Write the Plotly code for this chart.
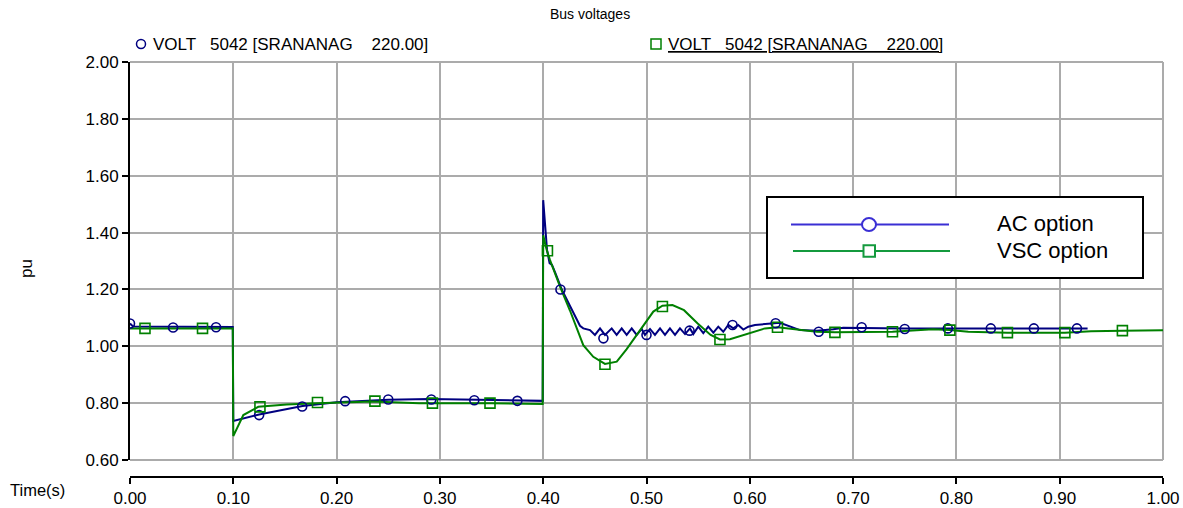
import plotly.graph_objects as go

# ---------------- data ----------------
ac_t = [0.0, 0.003, 0.0995, 0.1, 0.125, 0.15, 0.167, 0.2, 0.25, 0.29, 0.35, 0.3995,
        0.4, 0.4021, 0.4037, 0.4062, 0.4085, 0.4118, 0.4182, 0.4262, 0.4356, 0.4388, 0.4453, 0.4501,
        0.455, 0.4598, 0.4663, 0.4711, 0.476, 0.4808, 0.4857, 0.4905, 0.4954, 0.4985,
        0.5034, 0.5082, 0.5131, 0.5179, 0.5227, 0.5276, 0.5324, 0.5373, 0.5421, 0.5453,
        0.5501, 0.555, 0.5598, 0.5647, 0.5695, 0.5743, 0.5792, 0.584, 0.5888, 0.5937,
        0.5985, 0.605, 0.6147, 0.6292, 0.6486, 0.665, 0.6808, 0.6905, 0.75, 0.85, 0.927]
ac_v = [1.08, 1.07, 1.068, 0.737, 0.76, 0.778, 0.79, 0.803, 0.812, 0.815, 0.812, 0.808,
        1.514, 1.403, 1.339, 1.292, 1.286, 1.257, 1.198, 1.14, 1.072, 1.063, 1.057, 1.04,
        1.063, 1.04, 1.063, 1.04, 1.063, 1.04, 1.063, 1.04, 1.061, 1.04,
        1.061, 1.04, 1.063, 1.04, 1.063, 1.04, 1.063, 1.043, 1.063, 1.043,
        1.069, 1.046, 1.069, 1.048, 1.069, 1.051, 1.075, 1.063, 1.075, 1.059,
        1.069, 1.075, 1.078, 1.083, 1.057, 1.055, 1.06, 1.065, 1.063, 1.063, 1.063]

ac_mark_t = [0.0, 0.0417, 0.0833, 0.125, 0.1667, 0.2083, 0.25, 0.2917, 0.3333, 0.375,
             0.4167, 0.4583, 0.5, 0.5417, 0.5833, 0.625, 0.6667, 0.7083, 0.75, 0.7917,
             0.8333, 0.875, 0.9167]
ac_mark_v = [1.08, 1.066, 1.067, 0.758, 0.788, 0.807, 0.813, 0.813, 0.81, 0.808,
             1.20, 1.028, 1.04, 1.055, 1.075, 1.081, 1.051, 1.067, 1.061, 1.063,
             1.063, 1.063, 1.063]

vsc_t = [0.0, 0.0995, 0.1, 0.1097, 0.1242, 0.1517, 0.1807, 0.235, 0.28, 0.35, 0.3995,
         0.4, 0.4034, 0.4066, 0.4163, 0.426, 0.4388, 0.4485, 0.4598, 0.4712, 0.4808,
         0.4937, 0.5066, 0.5154, 0.5251, 0.5363, 0.5493, 0.5621, 0.5711, 0.5808, 0.5986,
         0.6147, 0.6268, 0.6486, 0.6648, 0.6824, 0.7066, 0.7228, 0.7381, 0.7773, 0.7937,
         0.8115, 0.8494, 0.905, 0.9303, 0.9607, 1.0]
vsc_v = [1.063, 1.063, 0.684, 0.758, 0.787, 0.795, 0.80, 0.806, 0.80, 0.80, 0.797,
         1.391, 1.339, 1.303, 1.21, 1.125, 1.004, 0.963, 0.938, 0.946, 0.99,
         1.055, 1.122, 1.143, 1.145, 1.127, 1.081, 1.04, 1.024, 1.025, 1.046,
         1.063, 1.067, 1.057, 1.051, 1.049, 1.049, 1.051, 1.051, 1.06, 1.057,
         1.051, 1.048, 1.048, 1.053, 1.055, 1.056]

vsc_mark_t = [0.0145, 0.0702, 0.1258, 0.1815, 0.2371, 0.2928, 0.3485, 0.4041, 0.4598,
              0.5154, 0.5711, 0.6268, 0.6824, 0.7381, 0.7937, 0.8494, 0.905, 0.9607]
vsc_mark_v = [1.063, 1.063, 0.787, 0.802, 0.807, 0.80, 0.80, 1.336, 0.937,
              1.14, 1.024, 1.067, 1.049, 1.051, 1.057, 1.048, 1.048, 1.055]

x_ticks = [0.0, 0.1, 0.2, 0.3, 0.4, 0.5, 0.6, 0.7, 0.8, 0.9, 1.0]
y_ticks = [0.6, 0.8, 1.0, 1.2, 1.4, 1.6, 1.8, 2.0]

title_text = "Bus voltages"
series_label = "VOLT   5042 [SRANANAG    220.00]"
legend_names = ["AC option", "VSC option"]

# ---------------- styling ----------------
NAVY = "#000080"
GREEN = "#008000"
LEG_BLUE = "#3a2fd4"
LEG_GREEN = "#149a3e"
GRID = "#ababab"
FONT = "Arial, Liberation Sans, sans-serif"
W, H = 1183, 508
L, R, T, B_AX = 130, 1163, 62, 477   # pixel frame (x axis line at B_AX)
PLOT_BOTTOM = 460


def px(x):
    return (x - L) / (R - L)


def py(y):
    return (B_AX - y) / (B_AX - T)


fig = go.Figure()
fig.add_trace(go.Scatter(x=ac_t, y=ac_v, mode="lines",
                         line=dict(color=NAVY, width=2), showlegend=False))
fig.add_trace(go.Scatter(x=vsc_t, y=vsc_v, mode="lines",
                         line=dict(color=GREEN, width=2), showlegend=False))
fig.add_trace(go.Scatter(x=ac_mark_t, y=ac_mark_v, mode="markers",
                         marker=dict(symbol="circle-open", size=9, color=NAVY,
                                     line=dict(width=1.6, color=NAVY)),
                         showlegend=False))
fig.add_trace(go.Scatter(x=vsc_mark_t, y=vsc_mark_v, mode="markers",
                         marker=dict(symbol="square-open", size=10, color=GREEN,
                                     line=dict(width=1.6, color=GREEN)),
                         showlegend=False))

shapes = []
annotations = []

# legend box
shapes.append(dict(type="rect", xref="paper", yref="paper",
                   x0=px(767), x1=px(1143), y0=py(278), y1=py(197),
                   line=dict(color="black", width=2), fillcolor="white", layer="above"))
shapes.append(dict(type="line", xref="paper", yref="paper",
                   x0=px(791), x1=px(949), y0=py(224.5), y1=py(224.5),
                   line=dict(color=LEG_BLUE, width=2), layer="above"))
shapes.append(dict(type="line", xref="paper", yref="paper",
                   x0=px(793), x1=px(950), y0=py(251), y1=py(251),
                   line=dict(color=LEG_GREEN, width=2), layer="above"))
shapes.append(dict(type="circle", xref="paper", yref="paper",
                   x0=px(862), x1=px(876), y0=py(231), y1=py(218),
                   line=dict(color=LEG_BLUE, width=2), fillcolor="white", layer="above"))
shapes.append(dict(type="rect", xref="paper", yref="paper",
                   x0=px(863.5), x1=px(875), y0=py(256.8), y1=py(245.3),
                   line=dict(color=LEG_GREEN, width=2), fillcolor="white", layer="above"))
annotations.append(dict(xref="paper", yref="paper", x=px(995), y=py(223.5),
                        text=legend_names[0], showarrow=False, xanchor="left", yanchor="middle",
                        font=dict(family=FONT, size=22, color="black")))
annotations.append(dict(xref="paper", yref="paper", x=px(995), y=py(251),
                        text=legend_names[1], showarrow=False, xanchor="left", yanchor="middle",
                        font=dict(family=FONT, size=22, color="black")))

# top series labels
shapes.append(dict(type="circle", xref="paper", yref="paper",
                   x0=px(136.5), x1=px(145.5), y0=py(48.5), y1=py(39.5),
                   line=dict(color=NAVY, width=1.5)))
shapes.append(dict(type="rect", xref="paper", yref="paper",
                   x0=px(651), x1=px(661), y0=py(49), y1=py(39),
                   line=dict(color=GREEN, width=1.5)))
annotations.append(dict(xref="paper", yref="paper", x=px(151), y=py(44),
                        text=series_label, showarrow=False, xanchor="left", yanchor="middle",
                        font=dict(family=FONT, size=17, color="black")))
annotations.append(dict(xref="paper", yref="paper", x=px(666), y=py(44),
                        text="<u>" + series_label + "</u>", showarrow=False, xanchor="left",
                        yanchor="middle", font=dict(family=FONT, size=17, color="black")))

# title
annotations.append(dict(xref="paper", yref="paper", x=px(590), y=py(14),
                        text=title_text, showarrow=False, xanchor="center", yanchor="middle",
                        font=dict(family=FONT, size=14, color="black")))
# axis titles
annotations.append(dict(xref="paper", yref="paper", x=px(26), y=py(269),
                        text="pu", showarrow=False, xanchor="center", yanchor="middle",
                        textangle=-90, font=dict(family=FONT, size=17, color="black")))
annotations.append(dict(xref="paper", yref="paper", x=px(8), y=py(490),
                        text="Time(s)", showarrow=False, xanchor="left", yanchor="middle",
                        font=dict(family=FONT, size=16.5, color="black")))

# grid borders at the frame edges
shapes.append(dict(type="line", xref="paper", yref="paper", x0=1, x1=1,
                   y0=py(PLOT_BOTTOM), y1=1, line=dict(color=GRID, width=2), layer="below"))
shapes.append(dict(type="line", xref="paper", yref="paper", x0=0, x1=1,
                   y0=1, y1=1, line=dict(color=GRID, width=2), layer="below"))
shapes.append(dict(type="line", xref="paper", yref="paper", x0=0, x1=1,
                   y0=py(PLOT_BOTTOM), y1=py(PLOT_BOTTOM), line=dict(color=GRID, width=2), layer="below"))

fig.update_layout(
    width=W, height=H,
    margin=dict(l=L, r=W - R, t=T, b=H - B_AX, pad=0, autoexpand=False),
    paper_bgcolor="white", plot_bgcolor="white",
    showlegend=False,
    font=dict(family=FONT, size=17, color="black"),
    xaxis=dict(range=[0, 1], tickvals=x_ticks, ticktext=[f"{v:.2f}" for v in x_ticks],
               anchor="free", position=0, automargin=False,
               showgrid=True, gridcolor=GRID, gridwidth=2, zeroline=False,
               showline=True, linecolor="black", linewidth=1.5,
               ticks="outside", ticklen=6, tickwidth=1.5, tickcolor="black",
               tickfont=dict(family=FONT, size=17, color="black")),
    yaxis=dict(range=[0.6, 2.0], tickvals=y_ticks, ticktext=[f"{v:.2f}" for v in y_ticks],
               domain=[py(PLOT_BOTTOM), 1], automargin=False,
               showgrid=True, gridcolor=GRID, gridwidth=2, zeroline=False,
               showline=True, linecolor="black", linewidth=2,
               ticks="outside", ticklen=6, tickwidth=1.5, tickcolor="black",
               tickfont=dict(family=FONT, size=17, color="black")),
    shapes=shapes, annotations=annotations,
)

fig.write_html("out.html")
